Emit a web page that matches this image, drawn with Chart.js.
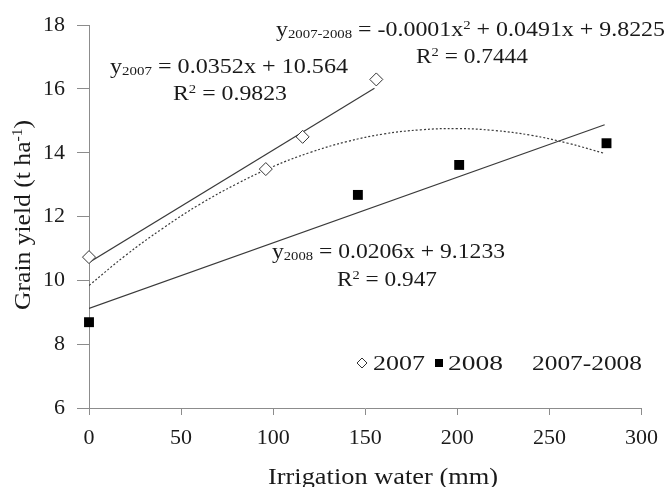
<!DOCTYPE html>
<html>
<head>
<meta charset="utf-8">
<script src="https://cdn.jsdelivr.net/npm/chart.js@4.4.1/dist/chart.umd.min.js"></script>
<style>
  html, body { margin: 0; padding: 0; background: #fff; }
  #wrap { width: 668px; height: 487px; position: relative; }
  .probe { font-family: "Liberation Serif"; position: absolute; left: -999px; top: 0; }
</style>
</head>
<body>
<span class="probe">0123 Grain yield</span>
<div id="wrap"><canvas id="chart"></canvas></div>
<script>
// measured points (irrigation water mm, grain yield t/ha)
const water2007 = [0, 96, 116, 156];
const yield2007 = [10.73, 13.49, 14.5, 16.3];
const water2008 = [0, 146, 201, 281];
const yield2008 = [8.69, 12.68, 13.62, 14.3];

// trend lines
const fit2007X = [0, 155];
const fit2007Y = [10.56, 16.02];
const fit2008X = [0, 280];
const fit2008Y = [9.12, 14.88];
const fitAllX = [0, 20, 40, 60, 80, 100, 120, 140, 160, 180, 200, 220, 240, 260, 280];
const fitAllY = [9.84, 10.79, 11.63, 12.38, 13.02, 13.57, 14.01, 14.35, 14.59, 14.72, 14.76, 14.7, 14.55, 14.3, 13.98];

const xTicks = [0, 50, 100, 150, 200, 250, 300];
const yTicks = [6, 8, 10, 12, 14, 16, 18];

const SERIF = "'Liberation Serif', 'Times New Roman', Times, serif";
const AXIS_GREY = '#8c8c8c';
const LINE_GREY = '#3a3a3a';

const pts = (xs, ys) => xs.map((x, i) => ({ x: x, y: ys[i] }));

// draw a run of text pieces [text, size, dy] squeezed/stretched between x0 and x1
function drawRich(ctx, segs, x0, x1, baseline) {
    let w = 0;
    segs.forEach(s => {
        ctx.font = s[1] + 'px ' + SERIF;
        w += ctx.measureText(s[0]).width;
    });
    const sx = (x1 - x0) / w;
    ctx.save();
    ctx.translate(x0, baseline);
    ctx.scale(sx, 1);
    let cx = 0;
    segs.forEach(s => {
        ctx.font = s[1] + 'px ' + SERIF;
        ctx.fillText(s[0], cx, s[2] || 0);
        cx += ctx.measureText(s[0]).width;
    });
    ctx.restore();
}

const textPlugin = {
    id: 'textPlugin',
    afterDraw(chart) {
        const ctx = chart.ctx;
        ctx.save();
        ctx.fillStyle = '#1a1a1a';
        ctx.textBaseline = 'alphabetic';
        ctx.textAlign = 'left';

        // equations
        drawRich(ctx, [['y', 21], ['2007-2008', 13, 2], [' = -0.0001x', 21], ['2', 13, -7],
            [' + 0.0491x + 9.8225', 21]], 276, 665, 36);
        drawRich(ctx, [['R', 21], ['2', 13, -7], [' = 0.7444', 21]], 416, 528, 63);
        drawRich(ctx, [['y', 21], ['2007', 13, 2], [' = 0.0352x + 10.564', 21]], 110, 348, 73);
        drawRich(ctx, [['R', 21], ['2', 13, -7], [' = 0.9823', 21]], 173, 287, 100);
        drawRich(ctx, [['y', 21], ['2008', 13, 2], [' = 0.0206x + 9.1233', 21]], 272, 505, 258);
        drawRich(ctx, [['R', 21], ['2', 13, -7], [' = 0.947', 21]], 337, 437, 286);

        // legend
        ctx.strokeStyle = '#333';
        ctx.lineWidth = 1;
        ctx.beginPath();
        ctx.moveTo(362, 358); ctx.lineTo(367, 363); ctx.lineTo(362, 368); ctx.lineTo(357, 363);
        ctx.closePath();
        ctx.stroke();
        ctx.fillStyle = '#000';
        ctx.fillRect(435, 359, 8, 8);
        ctx.fillStyle = '#1a1a1a';
        drawRich(ctx, [['2007', 20]], 373, 425, 370);
        drawRich(ctx, [['2008', 20]], 448, 503, 370);
        drawRich(ctx, [['2007-2008', 20]], 532, 642, 370);

        // axis titles
        drawRich(ctx, [['Irrigation water (mm)', 23]], 268, 498, 484);
        ctx.save();
        ctx.translate(30, 310);
        ctx.rotate(-Math.PI / 2);
        drawRich(ctx, [['Grain yield (t ha', 23], ['-1', 14, -8], [')', 23]], 0, 190, 0);
        ctx.restore();

        ctx.restore();
    }
};

const buildChart = () => {
    const ctx = document.getElementById('chart');
    new Chart(ctx, {
        type: 'scatter',
        data: {
            datasets: [
                {
                    label: '2007',
                    data: pts(water2007, yield2007),
                    pointStyle: 'rectRot',
                    pointRadius: 6.5,
                    backgroundColor: '#fff',
                    borderColor: '#333',
                    borderWidth: 1,
                    clip: false,
                    order: 1
                },
                {
                    label: '2008',
                    data: pts(water2008, yield2008),
                    pointStyle: 'rect',
                    pointRadius: 7,
                    backgroundColor: '#000',
                    borderColor: '#000',
                    borderWidth: 0,
                    clip: false,
                    order: 1
                },
                {
                    label: 'fit 2007',
                    data: pts(fit2007X, fit2007Y),
                    showLine: true,
                    pointRadius: 0,
                    borderColor: LINE_GREY,
                    borderWidth: 1.2,
                    order: 2
                },
                {
                    label: 'fit 2008',
                    data: pts(fit2008X, fit2008Y),
                    showLine: true,
                    pointRadius: 0,
                    borderColor: LINE_GREY,
                    borderWidth: 1.2,
                    order: 2
                },
                {
                    label: '2007-2008',
                    data: pts(fitAllX, fitAllY),
                    showLine: true,
                    pointRadius: 0,
                    tension: 0.4,
                    borderColor: LINE_GREY,
                    borderWidth: 1.2,
                    borderDash: [2, 2],
                    order: 2
                }
            ]
        },
        options: {
            responsive: true,
            maintainAspectRatio: false,
            animation: false,
            layout: { padding: { left: 0, right: 23, top: 22, bottom: 0 } },
            plugins: {
                legend: { display: false },
                tooltip: { enabled: false }
            },
            scales: {
                x: {
                    type: 'linear',
                    min: 0,
                    max: 300,
                    afterFit: (scale) => { scale.height = 79; },
                    afterBuildTicks: (scale) => { scale.ticks = xTicks.map(v => ({ value: v })); },
                    grid: { drawOnChartArea: false, drawTicks: true, tickLength: 7, color: AXIS_GREY },
                    border: { color: AXIS_GREY, width: 1 },
                    ticks: { color: '#1a1a1a', padding: 10, font: { family: SERIF, size: 22 } }
                },
                y: {
                    type: 'linear',
                    min: 6,
                    max: 18,
                    afterFit: (scale) => { scale.width = 89; },
                    afterBuildTicks: (scale) => { scale.ticks = yTicks.map(v => ({ value: v })); },
                    grid: { drawOnChartArea: false, drawTicks: true, tickLength: 12, color: AXIS_GREY },
                    border: { color: AXIS_GREY, width: 1 },
                    ticks: { color: '#1a1a1a', padding: 12, font: { family: SERIF, size: 22 } }
                }
            }
        },
        plugins: [textPlugin]
    });
};

document.fonts.load("22px 'Liberation Serif'").then(buildChart, buildChart);
</script>
</body>
</html>
